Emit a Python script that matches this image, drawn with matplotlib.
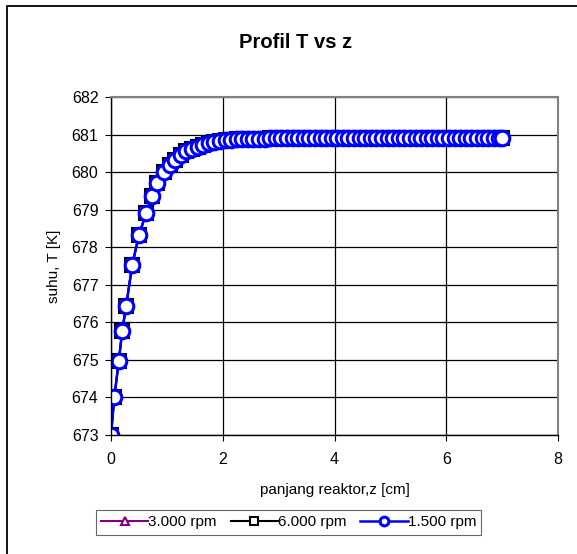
import matplotlib
matplotlib.use('Agg')
import matplotlib.pyplot as plt
from matplotlib.patches import Rectangle

plt.rcParams['font.family'] = ['Liberation Sans', 'DejaVu Sans']

# data profil suhu sepanjang reaktor
z = [0.00, 0.06, 0.14, 0.20, 0.27, 0.38, 0.50, 0.63, 0.74, 0.83, 0.94, 1.05,
     1.15, 1.25, 1.35, 1.45, 1.55, 1.65, 1.75, 1.85, 1.95, 2.05, 2.15, 2.25,
     2.35, 2.45, 2.55, 2.65, 2.75, 2.85, 2.95, 3.05, 3.15, 3.25, 3.35, 3.45,
     3.55, 3.65, 3.75, 3.85, 3.95, 4.05, 4.15, 4.25, 4.35, 4.45, 4.55, 4.65,
     4.75, 4.85, 4.95, 5.05, 5.15, 5.25, 5.35, 5.45, 5.55, 5.65, 5.75, 5.85,
     5.95, 6.05, 6.15, 6.25, 6.35, 6.45, 6.55, 6.65, 6.75, 6.85, 6.95, 7.00]
T = [673.00, 674.02, 674.97, 675.77, 676.43, 677.53, 678.32, 678.92, 679.37, 679.72, 680.00, 680.19,
     680.33, 680.45, 680.55, 680.62, 680.68, 680.73, 680.77, 680.80, 680.83, 680.85, 680.86, 680.87,
     680.88, 680.88, 680.89, 680.89, 680.89, 680.90, 680.90, 680.90, 680.90, 680.90, 680.90, 680.90,
     680.90, 680.90, 680.90, 680.90, 680.90, 680.90, 680.90, 680.90, 680.90, 680.90, 680.90, 680.90,
     680.90, 680.90, 680.90, 680.90, 680.90, 680.90, 680.90, 680.90, 680.90, 680.90, 680.90, 680.90,
     680.90, 680.90, 680.90, 680.90, 680.90, 680.90, 680.90, 680.90, 680.90, 680.90, 680.90, 680.90]

x_ticks = [0, 2, 4, 6, 8]
y_ticks = [673, 674, 675, 676, 677, 678, 679, 680, 681, 682]

fig = plt.figure(figsize=(5.77, 5.54), dpi=100)
# bingkai luar grafik
fig.patches.append(Rectangle((7 / 577, -0.1), 1.2, (554 - 6) / 554 + 0.1,
                             transform=fig.transFigure, fill=False,
                             edgecolor='black', linewidth=1.3))

ax = fig.add_axes([111 / 577, 119 / 554, 447 / 577, 338 / 554])

ax.plot(z, T, color='#800080', marker='^', markersize=9, markerfacecolor='white',
        markeredgecolor='#800080', markeredgewidth=1.5, linewidth=1.5, label='3.000 rpm')
ax.plot(z, T, color='black', marker='s', markersize=10, markerfacecolor='white',
        markeredgecolor='black', markeredgewidth=1.5, linewidth=1.5, label='6.000 rpm')
ax.plot(z, T, color='#0000ff', marker='o', markersize=10.5, markerfacecolor='white',
        markeredgecolor='#0000ff', markeredgewidth=2.2, linewidth=1.8, label='1.500 rpm')

ax.set_xlim(0, 8)
ax.set_ylim(673, 682)
ax.set_xticks(x_ticks)
ax.set_yticks(y_ticks)
ax.grid(True, color='black', linewidth=0.9)
ax.set_axisbelow(True)
for s in ['top', 'right']:
    ax.spines[s].set_color('#808080')
    ax.spines[s].set_linewidth(1.5)
for s in ['left', 'bottom']:
    ax.spines[s].set_color('black')
    ax.spines[s].set_linewidth(1.0)
ax.tick_params(direction='out', length=4, labelsize=11.5, pad=5)
ax.tick_params(axis='x', pad=8)
ax.set_xlabel('panjang reaktor,z [cm]', fontsize=11, labelpad=12)
ax.set_ylabel('suhu, T [K]', fontsize=11, labelpad=8)
ax.set_title('Profil T vs z', fontsize=14.5, fontweight='bold', pad=35, x=0.414)

leg = ax.legend(loc='center', bbox_to_anchor=(0.397, -0.258), ncol=3, fontsize=11,
                frameon=True, fancybox=False, markerscale=0.6, handlelength=3.1,
                handletextpad=0.0, columnspacing=0.9, borderpad=0.35)
leg.get_frame().set_edgecolor('#404040')
leg.get_frame().set_linewidth(0.8)

fig.savefig('out.png', dpi=100)
